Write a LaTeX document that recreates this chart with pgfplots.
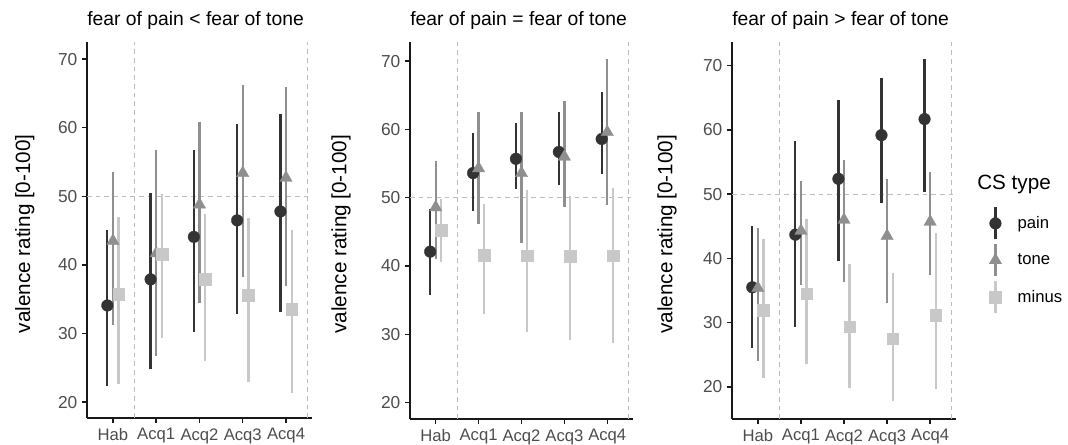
\documentclass[border=0pt]{standalone}
\usepackage{fontspec}
\setmainfont{Liberation Sans}
\usepackage{pgfplots}
\usepackage{pgfplotstable}
\pgfplotsset{compat=1.18}

\definecolor{cpain}{HTML}{333333}
\definecolor{ctone}{HTML}{8F8F8F}
\definecolor{cminus}{HTML}{C8C8C8}
\definecolor{cref}{HTML}{BDBDBD}
\definecolor{ctick}{HTML}{4D4D4D}

% c = phase (1 = Hab, 2..5 = Acq1..Acq4); value, lower, upper per CS type
\pgfplotstableread{
c p    plo  phi  t    tlo  thi  m    mlo  mhi
1 34.1 22.4 45.1 43.5 31.2 53.5 35.7 22.7 47.0
2 37.9 24.8 50.5 41.7 26.8 56.7 41.6 29.3 50.3
3 44.1 30.3 56.7 48.8 34.5 60.8 37.9 26.0 47.4
4 46.5 32.8 60.5 53.4 38.3 66.2 35.6 23.0 46.8
5 47.8 33.2 62.0 52.7 36.9 65.9 33.6 21.3 45.1
}\lowtab
\pgfplotstableread{
c p    plo  phi  t    tlo  thi  m    mlo  mhi
1 42.1 35.8 48.4 48.6 41.0 55.4 45.3 40.6 49.8
2 53.6 48.0 59.5 54.3 46.2 62.5 41.6 33.0 49.1
3 55.7 51.3 60.9 53.6 43.4 62.6 41.5 30.3 51.2
4 56.7 51.8 62.6 56.0 48.7 64.1 41.4 29.2 50.2
5 58.6 53.5 65.5 59.6 49.0 70.3 41.5 28.7 51.4
}\eqtab
\pgfplotstableread{
c p    plo  phi  t    tlo  thi  m    mlo  mhi
1 35.5 26.1 45.0 35.4 24.0 44.8 32.0 21.4 43.0
2 43.7 29.4 58.3 44.3 35.8 52.1 34.5 23.5 46.2
3 52.4 39.6 64.7 46.0 36.4 55.4 29.4 19.8 39.2
4 59.2 48.6 68.1 43.5 33.1 52.4 27.5 17.8 37.7
5 61.7 50.4 71.0 45.7 37.4 53.4 31.2 19.6 44.0
}\hightab

\pgfplotsset{
  panel/.style={
    scale only axis,
    clip=false,
    xmin=0.4, xmax=5.6,
    axis x line=bottom, axis y line=left,
    axis line style={-, line width=1.4pt, black!90},
    xtick={1,...,5}, xticklabels={Hab,Acq1,Acq2,Acq3,Acq4},
    ytick={20,30,...,70},
    tick align=outside, major tick length=3.75pt,
    tick style={line width=1.1pt, black!90},
    ticklabel style={font=\fontsize{12.5}{14}\selectfont, text=ctick},
    yticklabel style={font=\fontsize{13}{14}\selectfont},
    xticklabel style={yshift=-0.5pt},
    /pgf/number format/assume math mode=true,
    ylabel={valence rating [0-100]},
    ylabel style={font=\fontsize{15.5}{18}\selectfont, anchor=center},
    title style={at={(axis description cs:0,1)}, anchor=west, inner sep=0pt,
      yshift=9.75pt, font=\fontsize{14.5}{16}\selectfont},
  },
  cs/.style n args={3}{
    only marks, mark=#1, color=#2, mark size=#3, line width=1.7pt,
    forget plot,
    mark options={draw=#2, fill=#2, line width=0.2pt},
    error bars/.cd, y dir=both, y explicit, error mark=none,
    error bar style={line width=1.7pt, draw=#2},
  },
  painplot/.style={cs={*}{cpain}{4.4pt}},
  toneplot/.style={cs={triangle*}{ctone}{5.4pt}},
  minusplot/.style={cs={square*}{cminus}{4.4pt}},
  glyph/.style n args={3}{
    legend image code/.code={
      \draw[#2, line width=1.7pt] (0pt,-12pt) -- (0pt,12pt);
      \draw[#2] plot[mark=#1, mark size=#3,
        mark options={draw=#2, fill=#2, line width=0.2pt}] coordinates {(0pt,0pt)};
    },
  },
  refline/.style={cref, dashed, dash pattern=on 3.5pt off 3pt, line width=0.7pt, forget plot},
}

% the three CS types of one panel
\newcommand{\cstypes}[1]{%
  \addplot[painplot] table[x expr=\thisrow{c}-0.13, y=p,
    y error plus expr=\thisrow{phi}-\thisrow{p},
    y error minus expr=\thisrow{p}-\thisrow{plo}] {#1};
  \addplot[toneplot] table[x=c, y=t,
    y error plus expr=\thisrow{thi}-\thisrow{t},
    y error minus expr=\thisrow{t}-\thisrow{tlo}] {#1};
  \addplot[minusplot] table[x expr=\thisrow{c}+0.13, y=m,
    y error plus expr=\thisrow{mhi}-\thisrow{m},
    y error minus expr=\thisrow{m}-\thisrow{mlo}] {#1};
}

\begin{document}
\begin{tikzpicture}
\useasboundingbox (0,0) rectangle (801pt,333.75pt);

\begin{axis}[panel, at={(65.25pt,20.25pt)}, width=168.75pt, height=282pt,
  ymin=17.7, ymax=72.5,
  ylabel style={at={(axis description cs:-0.276,0.49)}},
  title={fear of pain < fear of tone}]
  \addplot[refline] coordinates {(0.4,50) (5.6,50)};
  \addplot[refline] coordinates {(1.5,17.7) (1.5,72.5)};
  \addplot[refline] coordinates {(5.5,17.7) (5.5,72.5)};
  \cstypes{\lowtab}
\end{axis}

\begin{axis}[panel, at={(307.5pt,19.5pt)}, width=167.25pt, height=282.75pt,
  ymin=17.6, ymax=72.8,
  ylabel style={at={(axis description cs:-0.309,0.49)}},
  title={fear of pain = fear of tone}]
  \addplot[refline] coordinates {(0.4,50) (5.6,50)};
  \addplot[refline] coordinates {(1.5,17.6) (1.5,72.8)};
  \addplot[refline] coordinates {(5.5,17.6) (5.5,72.8)};
  \cstypes{\eqtab}
\end{axis}

\begin{axis}[panel, at={(549pt,19.5pt)}, width=168pt, height=282.75pt,
  ymin=15.0, ymax=73.7,
  ylabel style={at={(axis description cs:-0.290,0.49)}},
  title={fear of pain > fear of tone},
  legend style={at={(axis description cs:1.147,0.565)}, anchor=north west,
    draw=none, fill=none, inner sep=0pt, row sep=1.9pt,
    font=\fontsize{12.5}{14}\selectfont,
    /tikz/every odd column/.append style={column sep=10pt}},
  legend cell align=left]
  \addplot[refline] coordinates {(0.4,50) (5.6,50)};
  \addplot[refline] coordinates {(1.5,15.0) (1.5,73.7)};
  \addplot[refline] coordinates {(5.5,15.0) (5.5,73.7)};
  \cstypes{\hightab}
  \addlegendimage{glyph={*}{cpain}{4.4pt}}
  \addlegendentry{pain}
  \addlegendimage{glyph={triangle*}{ctone}{5.4pt}}
  \addlegendentry{tone}
  \addlegendimage{glyph={square*}{cminus}{4.4pt}}
  \addlegendentry{minus}
\end{axis}

\node[anchor=west, font=\fontsize{15.5}{18}\selectfont, inner sep=0pt]
  at (732.75pt,195.75pt) {CS type};
\end{tikzpicture}
\end{document}
